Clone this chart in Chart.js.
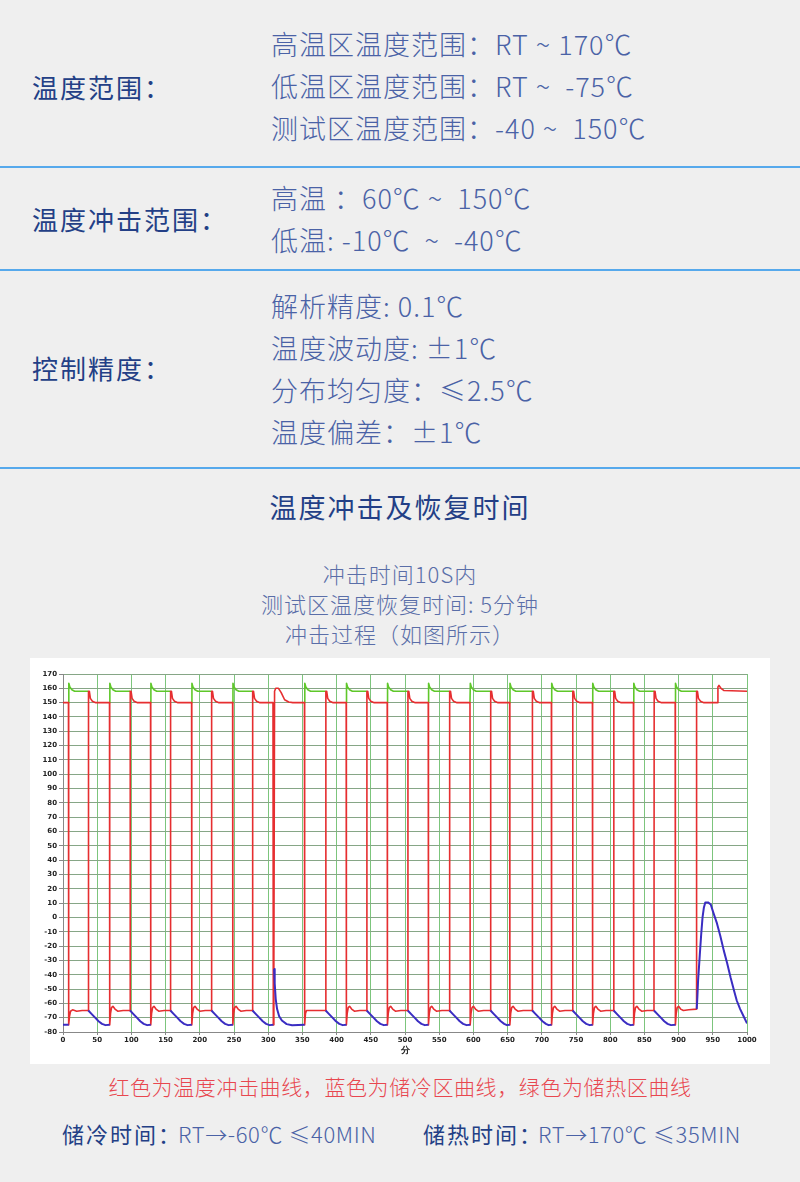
<!DOCTYPE html>
<html>
<head>
<meta charset="utf-8">
<script src="https://cdn.jsdelivr.net/npm/chart.js@4"></script>
<style>
  html, body { margin: 0; padding: 0; }
  body { width: 800px; height: 1182px; background: #efefef; position: relative; overflow: hidden;
         font-family: "Noto Sans CJK SC", "Noto Sans", sans-serif; }
  .t { position: absolute; white-space: pre; line-height: 1; }
  .lab { color: #233f86; font-size: 26px; font-weight: 400; letter-spacing: 2px; }
  .val { color: #4a62a6; font-size: 27px; font-weight: 300; letter-spacing: 1px; }
  .hr { position: absolute; left: 0; width: 800px; height: 1.5px; background: #56a9ec; }
  .sub { color: #5a6ea8; font-size: 22px; font-weight: 300; left: 0; width: 800px; text-align: center; letter-spacing: 1px; }
  #box { position: absolute; left: 30px; top: 658px; width: 740px; height: 406px; background: #fff; }
</style>
</head>
<body>
<div class="t lab" style="left:32px;top:74px">温度范围：</div>
<div class="t val" style="left:271px;top:30px">高温区温度范围：RT ~ 170℃</div>
<div class="t val" style="left:271px;top:72px">低温区温度范围：RT ~  -75℃</div>
<div class="t val" style="left:271px;top:114px">测试区温度范围：-40 ~  150℃</div>
<div class="hr" style="top:166px"></div>

<div class="t lab" style="left:32px;top:206px">温度冲击范围：</div>
<div class="t val" style="left:271px;top:184px">高温 ：60℃ ~  150℃</div>
<div class="t val" style="left:271px;top:226px">低温: -10℃  ~  -40℃</div>
<div class="hr" style="top:269px"></div>

<div class="t lab" style="left:32px;top:355px">控制精度：</div>
<div class="t val" style="left:271px;top:292px">解析精度: 0.1℃</div>
<div class="t val" style="left:271px;top:334px">温度波动度: ±1℃</div>
<div class="t val" style="left:271px;top:376px">分布均匀度：≤2.5℃</div>
<div class="t val" style="left:271px;top:418px">温度偏差：±1℃</div>
<div class="hr" style="top:467px"></div>

<div class="t lab" style="left:0;width:800px;text-align:center;top:493px;font-size:27px;font-weight:400">温度冲击及恢复时间</div>
<div class="t sub" style="top:562px">冲击时间10S内</div>
<div class="t sub" style="top:592px">测试区温度恢复时间: 5分钟</div>
<div class="t sub" style="top:622px">冲击过程（如图所示）</div>

<div id="box"><canvas id="myChart" width="740" height="406"></canvas></div>

<div class="t" style="left:0;width:800px;text-align:center;top:1076px;color:#e8474f;font-size:21px;font-weight:300;letter-spacing:0.6px">红色为温度冲击曲线，蓝色为储冷区曲线，绿色为储热区曲线</div>
<div class="t" style="left:62px;top:1122px;color:#233f86;font-size:22px;font-weight:400;letter-spacing:2px">储冷时间：</div>
<div class="t" style="left:178px;top:1122px;color:#4a62a6;font-size:22px;font-weight:300;letter-spacing:0.6px">RT→-60℃ ≤40MIN</div>
<div class="t" style="left:423px;top:1122px;color:#233f86;font-size:22px;font-weight:400;letter-spacing:2px">储热时间：</div>
<div class="t" style="left:538px;top:1122px;color:#4a62a6;font-size:22px;font-weight:300;letter-spacing:0.6px">RT→170℃ ≤35MIN</div>

<script>
// 分 (minutes) vs ℃ ; null = line break
var redCurve = [
  [0,150],[8,150],[8.3,-75],[9.5,-69],[11,-65.5],[14,-64.5],[20,-65.5],[28,-65],[37,-65],
  [37.3,158],[38.5,158],[40,153],[43,151],[48,150],[68,150],
  [68.3,-75],[69.5,-67],[71,-63],[73,-62],[76,-64],[80,-65.5],[88,-65],[98,-65],
  [98.3,158],[99.5,158],[101,153],[104,151],[109,150],[128,150],
  [128.3,-75],[129.5,-67],[131,-63],[133,-62],[136,-64],[140,-65.5],[148,-65],[157,-65],
  [157.3,158],[158.5,158],[160,153],[163,151],[168,150],[188,150],
  [188.3,-75],[189.5,-67],[191,-63],[193,-62],[196,-64],[200,-65.5],[208,-65],[217,-65],
  [217.3,158],[218.5,158],[220,153],[223,151],[228,150],[248,150],
  [248.3,-75],[249.5,-67],[251,-63],[253,-62],[256,-64],[260,-65.5],[268,-65],[277,-65],
  [277.3,158],[278.5,158],[280,153],[283,151],[288,150],[307,150],
  [307.5,-75],[308.3,-30],[309.3,158],[311,160],[315,160],[319,157],[324,152],[330,150.5],[336,150],[353,150],
  [353.3,-75],[354.5,-67],[356,-65],[370,-65],[384,-65],
  [384.3,158],[385.5,158],[387,153],[390,151],[395,150],[414,150],
  [414.3,-75],[415.5,-67],[417,-63],[419,-62],[422,-64],[426,-65.5],[434,-65],[444,-65],
  [444.3,158],[445.5,158],[447,153],[450,151],[455,150],[474,150],
  [474.3,-75],[475.5,-67],[477,-63],[479,-62],[482,-64],[486,-65.5],[494,-65],[504,-65],
  [504.3,158],[505.5,158],[507,153],[510,151],[515,150],[534,150],
  [534.3,-75],[535.5,-67],[537,-63],[539,-62],[542,-64],[546,-65.5],[554,-65],[565,-65],
  [565.3,158],[566.5,158],[568,153],[571,151],[576,150],[595,150],
  [595.3,-75],[596.5,-67],[598,-63],[600,-62],[603,-64],[607,-65.5],[615,-65],[625,-65],
  [625.3,158],[626.5,158],[628,153],[631,151],[636,150],[653,150],
  [653.3,-75],[654.5,-67],[656,-63],[658,-62],[661,-64],[665,-65.5],[673,-65],[686,-65],
  [686.3,158],[687.5,158],[689,153],[692,151],[697,150],[714,150],
  [714.3,-75],[715.5,-67],[717,-63],[719,-62],[722,-64],[726,-65.5],[734,-65],[745,-65],
  [745.3,158],[746.5,158],[748,153],[751,151],[756,150],[774,150],
  [774.3,-75],[775.5,-67],[777,-63],[779,-62],[782,-64],[786,-65.5],[794,-65],[805,-65],
  [805.3,158],[806.5,158],[808,153],[811,151],[816,150],[834,150],
  [834.3,-75],[835.5,-67],[837,-63],[839,-62],[842,-64],[846,-65.5],[854,-65],[864,-65],
  [864.3,158],[865.5,158],[867,153],[870,151],[875,150],[895,150],
  [895.3,-75],[896.5,-67],[898,-63],[900,-62],[903,-64],[907,-65],[915,-64.5],[926,-64],
  [926.3,158],[927.5,158],[929,153],[932,151],[937,150],[957,150],
  [957.5,161],[959,162],[962,160],[966,158.5],[1000,158]
];

var blueCurve = [
  [0,-75],[8.3,-75],[8.3,null],
  [37,-65],[42,-67.5],[47,-70],[52,-72.5],[57,-74.3],[62,-75.2],[68.3,-75],[68.3,null],
  [98,-65],[103,-67.5],[108,-70],[113,-72.5],[118,-74.3],[123,-75.2],[128.3,-75],[128.3,null],
  [157,-65],[162,-67.5],[167,-70],[172,-72.5],[177,-74.3],[182,-75.2],[188.3,-75],[188.3,null],
  [217,-65],[222,-67.5],[227,-70],[232,-72.5],[237,-74.3],[242,-75.2],[248.3,-75],[248.3,null],
  [277,-65],[282,-67.5],[287,-70],[292,-72.5],[297,-74.3],[302,-75.2],[307.5,-75],[307.5,null],
  [308.6,-36],[309.5,-46],[311,-57],[313,-64],[316,-69],[320,-72],[327,-74.5],[335,-75.3],[353.3,-75],[353.3,null],
  [384,-65],[389,-67.5],[394,-70],[399,-72.5],[404,-74.3],[409,-75.2],[414.3,-75],[414.3,null],
  [444,-65],[449,-67.5],[454,-70],[459,-72.5],[464,-74.3],[469,-75.2],[474.3,-75],[474.3,null],
  [504,-65],[509,-67.5],[514,-70],[519,-72.5],[524,-74.3],[529,-75.2],[534.3,-75],[534.3,null],
  [565,-65],[570,-67.5],[575,-70],[580,-72.5],[585,-74.3],[590,-75.2],[595.3,-75],[595.3,null],
  [625,-65],[630,-67.5],[635,-70],[640,-72.5],[645,-74.3],[649,-75.2],[653.3,-75],[653.3,null],
  [686,-65],[691,-67.5],[696,-70],[701,-72.5],[706,-74.3],[710,-75.2],[714.3,-75],[714.3,null],
  [745,-65],[750,-67.5],[755,-70],[760,-72.5],[765,-74.3],[770,-75.2],[774.3,-75],[774.3,null],
  [805,-65],[810,-67.5],[815,-70],[820,-72.5],[825,-74.3],[830,-75.2],[834.3,-75],[834.3,null],
  [864,-65],[869,-67.5],[874,-70],[879,-72.5],[884,-74.3],[889,-75.2],[895.3,-75],[895.3,null],
  [926.5,-64],[927.5,-55],[928.5,-44],[931,-26],[933,-12],[935,0],[937,7],[939,10.5],[943,10.5],
  [947,9],[951,3],[956,-4],[961,-13],[966,-23],[971,-32],[976,-42],[981,-51],[985,-58],
  [990,-64],[995,-69],[1000,-74]
];

var greenCurve = [
  [8,150],[8.5,163.5],[10,161],[13,159],[17,158],[37,158],[37,null],
  [68,150],[68.5,163.5],[70,161],[73,159],[77,158],[98,158],[98,null],
  [128,150],[128.5,163.5],[130,161],[133,159],[137,158],[157,158],[157,null],
  [188,150],[188.5,163.5],[190,161],[193,159],[197,158],[217,158],[217,null],
  [248,150],[248.5,163.5],[250,161],[253,159],[257,158],[277,158],[277,null],
  [353,150],[353.5,163.5],[355,161],[358,159],[362,158],[384,158],[384,null],
  [414,150],[414.5,163.5],[416,161],[419,159],[423,158],[444,158],[444,null],
  [474,150],[474.5,163.5],[476,161],[479,159],[483,158],[504,158],[504,null],
  [534,150],[534.5,163.5],[536,161],[539,159],[543,158],[565,158],[565,null],
  [595,150],[595.5,163.5],[597,161],[600,159],[604,158],[625,158],[625,null],
  [653,150],[653.5,163.5],[655,161],[658,159],[662,158],[686,158],[686,null],
  [714,150],[714.5,163.5],[716,161],[719,159],[723,158],[745,158],[745,null],
  [774,150],[774.5,163.5],[776,161],[779,159],[783,158],[805,158],[805,null],
  [834,150],[834.5,163.5],[836,161],[839,159],[843,158],[864,158],[864,null],
  [895,150],[895.5,163.5],[897,161],[900,159],[904,158],[926,158]
];

var yMin = -80, yMax = 170, yStep = 10;
var xMin = 0, xMax = 1000, xStep = 50;
var xTitle = '分';

function toXY(arr) {
  return arr.map(function (p) { return { x: p[0], y: p[1] }; });
}

var tickFont = { family: 'DejaVu Sans', size: 7, weight: 'bold' };

var ctx = document.getElementById('myChart').getContext('2d');
var myChart = new Chart(ctx, {
  type: 'line',
  data: {
    datasets: [
      { label: '储冷区', data: toXY(blueCurve), borderColor: '#3a2dc2', borderWidth: 2, order: 0 },
      { label: '温度冲击', data: toXY(redCurve), borderColor: '#e62e30', borderWidth: 1.6, order: 1 },
      { label: '储热区', data: toXY(greenCurve), borderColor: '#5fc72a', borderWidth: 1.6, order: 2 }
    ]
  },
  options: {
    responsive: false,
    animation: false,
    spanGaps: false,
    elements: { point: { radius: 0 }, line: { tension: 0, borderJoinStyle: 'round' } },
    layout: { padding: { top: 16, right: 23, bottom: 8, left: 0 } },
    plugins: { legend: { display: false }, tooltip: { enabled: false } },
    scales: {
      x: {
        type: 'linear', min: xMin, max: xMax,
        afterFit: function (s) { s.height = 24; },
        ticks: { stepSize: xStep, color: '#222', font: tickFont, padding: 1, maxRotation: 0,
                 callback: function (v) { return String(v); } },
        grid: { color: '#7cc57c', tickLength: 3, tickColor: '#888' },
        border: { color: '#888' },
        title: { display: true, text: xTitle, color: '#222', font: { size: 9, weight: 'bold' }, padding: 0 }
      },
      y: {
        min: yMin, max: yMax,
        afterFit: function (s) { s.width = 33; },
        ticks: { stepSize: yStep, color: '#222', font: tickFont, padding: 2 },
        grid: { color: '#86a686', tickLength: 4, tickColor: '#888' },
        border: { color: '#888' }
      }
    }
  }
});
</script>
</body>
</html>
